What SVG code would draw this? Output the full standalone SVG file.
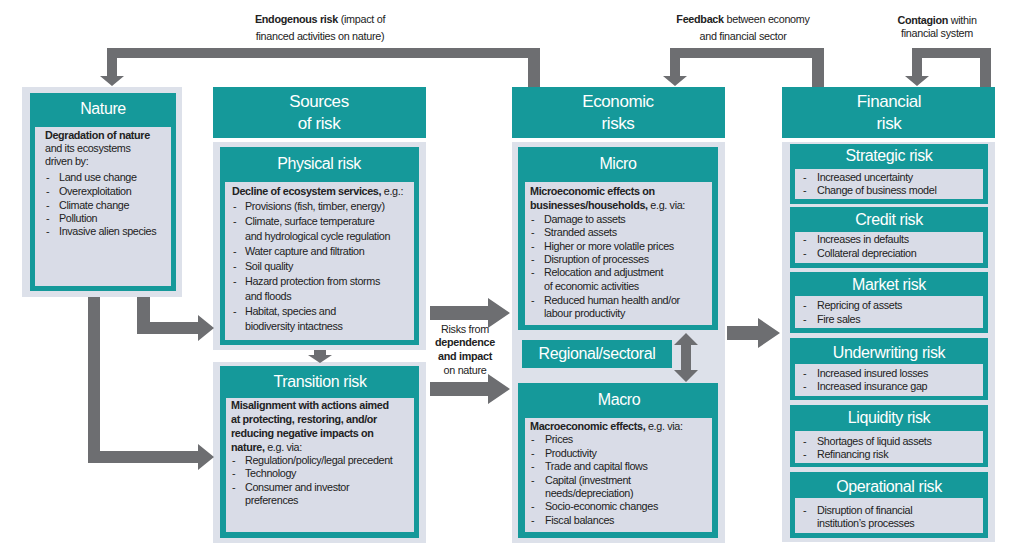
<svg xmlns="http://www.w3.org/2000/svg" width="1024" height="553" viewBox="0 0 1024 553">
<style>
.pan{fill:#dde1ea}
.tl{fill:#15999a}
.in{fill:#d9dce7}
.h{font-family:"Liberation Sans",Arial,sans-serif;fill:#fff;text-anchor:middle;font-size:16px;letter-spacing:-0.4px}
.t{font-family:"Liberation Sans",Arial,sans-serif;fill:#222;font-size:10.8px;letter-spacing:-0.35px}
.b{font-weight:bold}
.lb{font-family:"Liberation Sans",Arial,sans-serif;fill:#222;font-size:10.8px;text-anchor:middle;letter-spacing:-0.3px}
.ar{fill:#6d6e71}
</style>
<rect width="1024" height="553" fill="#fff"/>
<g id="labels">
<text class="lb" x="320" y="23"><tspan class="b">Endogenous risk</tspan> (impact of</text>
<text class="lb" x="320" y="40">financed activities on nature)</text>
<text class="lb" x="743" y="23"><tspan class="b">Feedback</tspan> between economy</text>
<text class="lb" x="743" y="40">and financial sector</text>
<text class="lb" x="937" y="24"><tspan class="b">Contagion</tspan> within</text>
<text class="lb" x="937" y="37">financial system</text>
<text class="lb" x="465" y="333">Risks from</text>
<text class="lb b" x="465" y="346">dependence</text>
<text class="lb b" x="465" y="360">and impact</text>
<text class="lb" x="465" y="374">on nature</text>
</g>
<g id="nature">
<rect class="pan" x="22" y="87" width="160" height="210"/>
<rect class="tl" x="30" y="93" width="146" height="198"/>
<rect class="in" x="35" y="127" width="136" height="159"/>
<text class="h" x="103" y="114">Nature</text>
<text class="t" x="45"><tspan class="b" x="45" y="139">Degradation of nature</tspan><tspan x="45" y="152">and its ecosystems</tspan><tspan x="45" y="165">driven by:</tspan></text>
<text class="t"><tspan x="46" y="181">-</tspan><tspan x="59" y="181">Land use change</tspan><tspan x="46" y="195">-</tspan><tspan x="59" y="195">Overexploitation</tspan><tspan x="46" y="209">-</tspan><tspan x="59" y="209">Climate change</tspan><tspan x="46" y="222">-</tspan><tspan x="59" y="222">Pollution</tspan><tspan x="46" y="235">-</tspan><tspan x="59" y="235">Invasive alien species</tspan></text>
</g>
<g id="sources">
<rect class="tl" x="213" y="87" width="213" height="51"/>
<text class="h" x="319" y="107" style="font-size:17px">Sources</text>
<text class="h" x="319" y="129" style="font-size:17px">of risk</text>
</g>
<g id="physical">
<rect class="pan" x="213" y="142" width="213" height="208"/>
<rect class="tl" x="220" y="147" width="199" height="198"/>
<rect class="in" x="225" y="182" width="189" height="158"/>
<text class="h" x="319" y="169">Physical risk</text>
<text class="t"><tspan class="b" x="232" y="195">Decline of ecosystem services,</tspan><tspan> e.g.:</tspan>
<tspan x="233" y="210">-</tspan><tspan x="245" y="210">Provisions (fish, timber, energy)</tspan>
<tspan x="233" y="225">-</tspan><tspan x="245" y="225">Climate, surface temperature</tspan>
<tspan x="245" y="240">and hydrological cycle regulation</tspan>
<tspan x="233" y="255">-</tspan><tspan x="245" y="255">Water capture and filtration</tspan>
<tspan x="233" y="270">-</tspan><tspan x="245" y="270">Soil quality</tspan>
<tspan x="233" y="285">-</tspan><tspan x="245" y="285">Hazard protection from storms</tspan>
<tspan x="245" y="300">and floods</tspan>
<tspan x="233" y="315">-</tspan><tspan x="245" y="315">Habitat, species and</tspan>
<tspan x="245" y="330">biodiversity intactness</tspan></text>
</g>
<g id="transition">
<rect class="pan" x="213" y="362" width="213" height="181"/>
<rect class="tl" x="220" y="366" width="199" height="172"/>
<rect class="in" x="226" y="398" width="188" height="134"/>
<text class="h" x="320" y="387">Transition risk</text>
<text class="t"><tspan class="b" x="231" y="409">Misalignment with actions aimed</tspan>
<tspan class="b" x="231" y="423">at protecting, restoring, and/or</tspan>
<tspan class="b" x="231" y="437">reducing negative impacts on</tspan>
<tspan class="b" x="231" y="451">nature,</tspan><tspan> e.g. via:</tspan>
<tspan x="232" y="464">-</tspan><tspan x="245" y="464">Regulation/policy/legal precedent</tspan>
<tspan x="232" y="477">-</tspan><tspan x="245" y="477">Technology</tspan>
<tspan x="232" y="491">-</tspan><tspan x="245" y="491">Consumer and investor</tspan>
<tspan x="245" y="504">preferences</tspan></text>
</g>
<g id="economic">
<rect class="tl" x="512" y="87" width="213" height="51"/>
<text class="h" x="618" y="107" style="font-size:17px">Economic</text>
<text class="h" x="618" y="129" style="font-size:17px">risks</text>
</g>
<g id="micro">
<rect class="pan" x="512" y="142" width="213" height="401"/>
<rect class="tl" x="518" y="147" width="200" height="183"/>
<rect class="in" x="525" y="182" width="187" height="143"/>
<text class="h" x="618" y="169">Micro</text>
<text class="t"><tspan class="b" x="530" y="195">Microeconomic effects on</tspan>
<tspan class="b" x="530" y="209">businesses/households,</tspan><tspan> e.g. via:</tspan>
<tspan x="531" y="223">-</tspan><tspan x="544" y="223">Damage to assets</tspan>
<tspan x="531" y="236">-</tspan><tspan x="544" y="236">Stranded assets</tspan>
<tspan x="531" y="250">-</tspan><tspan x="544" y="250">Higher or more volatile prices</tspan>
<tspan x="531" y="263">-</tspan><tspan x="544" y="263">Disruption of processes</tspan>
<tspan x="531" y="276">-</tspan><tspan x="544" y="276">Relocation and adjustment</tspan>
<tspan x="544" y="290">of economic activities</tspan>
<tspan x="531" y="304">-</tspan><tspan x="544" y="304">Reduced human health and/or</tspan>
<tspan x="544" y="317">labour productivity</tspan></text>
</g>
<g id="regional">
<rect class="tl" x="522" y="340" width="150" height="28"/>
<text class="h" x="597" y="359">Regional/sectoral</text>
</g>
<g id="macro">
<rect class="tl" x="518" y="383" width="200" height="155"/>
<rect class="in" x="525" y="418" width="187" height="114"/>
<text class="h" x="619" y="405">Macro</text>
<text class="t"><tspan class="b" x="530" y="430">Macroeconomic effects,</tspan><tspan> e.g. via:</tspan>
<tspan x="531" y="443">-</tspan><tspan x="545" y="443">Prices</tspan>
<tspan x="531" y="457">-</tspan><tspan x="545" y="457">Productivity</tspan>
<tspan x="531" y="470">-</tspan><tspan x="545" y="470">Trade and capital flows</tspan>
<tspan x="531" y="484">-</tspan><tspan x="545" y="484">Capital (investment</tspan>
<tspan x="545" y="497">needs/depreciation)</tspan>
<tspan x="531" y="510">-</tspan><tspan x="545" y="510">Socio-economic changes</tspan>
<tspan x="531" y="524">-</tspan><tspan x="545" y="524">Fiscal balances</tspan></text>
</g>
<g id="financial">
<rect class="tl" x="782" y="87" width="213" height="51"/>
<text class="h" x="889" y="107" style="font-size:17px">Financial</text>
<text class="h" x="889" y="129" style="font-size:17px">risk</text>
<rect class="pan" x="782" y="142" width="213" height="400"/>
</g>
<g id="strategic">
<rect class="tl" x="790" y="144" width="198" height="60"/>
<rect class="in" x="795" y="169" width="188" height="30"/>
<text class="h" x="889" y="161">Strategic risk</text>
<text class="t"><tspan x="803" y="181">-</tspan><tspan x="817" y="181">Increased uncertainty</tspan><tspan x="803" y="194">-</tspan><tspan x="817" y="194">Change of business model</tspan></text>
</g>
<g id="credit">
<rect class="tl" x="790" y="207" width="198" height="61"/>
<rect class="in" x="795" y="232" width="188" height="31"/>
<text class="h" x="889" y="225">Credit risk</text>
<text class="t"><tspan x="803" y="243">-</tspan><tspan x="817" y="243">Increases in defaults</tspan><tspan x="803" y="257">-</tspan><tspan x="817" y="257">Collateral depreciation</tspan></text>
</g>
<g id="market">
<rect class="tl" x="790" y="272" width="198" height="61"/>
<rect class="in" x="795" y="296" width="188" height="32"/>
<text class="h" x="889" y="290">Market risk</text>
<text class="t"><tspan x="803" y="309">-</tspan><tspan x="817" y="309">Repricing of assets</tspan><tspan x="803" y="323">-</tspan><tspan x="817" y="323">Fire sales</tspan></text>
</g>
<g id="underwriting">
<rect class="tl" x="790" y="338" width="198" height="62"/>
<rect class="in" x="795" y="364" width="188" height="32"/>
<text class="h" x="889" y="358">Underwriting risk</text>
<text class="t"><tspan x="803" y="377">-</tspan><tspan x="817" y="377">Increased insured losses</tspan><tspan x="803" y="390">-</tspan><tspan x="817" y="390">Increased insurance gap</tspan></text>
</g>
<g id="liquidity">
<rect class="tl" x="790" y="405" width="198" height="62"/>
<rect class="in" x="795" y="431" width="188" height="32"/>
<text class="h" x="889" y="423">Liquidity risk</text>
<text class="t"><tspan x="803" y="445">-</tspan><tspan x="817" y="445">Shortages of liquid assets</tspan><tspan x="803" y="458">-</tspan><tspan x="817" y="458">Refinancing risk</tspan></text>
</g>
<g id="operational">
<rect class="tl" x="790" y="472" width="198" height="66"/>
<rect class="in" x="795" y="498" width="188" height="35"/>
<text class="h" x="889" y="492">Operational risk</text>
<text class="t"><tspan x="803" y="514">-</tspan><tspan x="817" y="514">Disruption of financial</tspan><tspan x="817" y="527">institution’s processes</tspan></text>
</g>
<g id="connectors" class="ar">
<path d="M528,87 V58 H117 V76 H124 L112,86 L100,76 H107 V48 H540 V87 Z"/>
<path d="M812,87 V58 H680 V76 H687 L675,86 L663,76 H670 V48 H824 V87 Z"/>
<path d="M980,87 V58 H922 V76 H929 L917,86 L905,76 H912 V48 H991 V87 Z"/>
<path d="M88,297 H100 V451 H198 V444 L214,457 L198,470 V463 H88 Z"/>
<path d="M137,297 H150 V322 H198 V315 L214,328 L198,341 V334 H137 Z"/>
<path d="M314,350 H326 V355 H332 L320,363 L308,355 H314 Z"/>
<path d="M430,306 H488 V298 L510,313 L488,328 V320 H430 Z"/>
<path d="M430,382 H488 V374 L510,389 L488,404 V396 H430 Z"/>
<path d="M727,326 H758 V318 L780,333 L758,348 V340 H727 Z"/>
<path d="M681,345 H674 L686,333 L698,345 H691 V370 H698 L686,382 L674,370 H681 Z"/>
</g>
</svg>
